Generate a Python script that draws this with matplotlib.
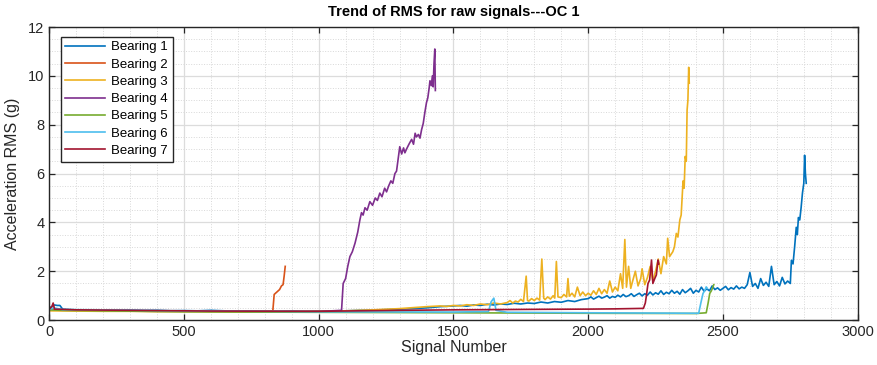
import numpy as np
import matplotlib.pyplot as plt
from matplotlib.ticker import MultipleLocator

# ---- data (signal number, RMS in g) ----
b1_x = [0, 10, 20, 30, 40, 50, 60, 80, 100, 150, 200, 250, 300, 350, 400, 450, 500,
        550, 600, 650, 700, 750, 800, 850, 900, 950, 1000, 1050, 1100, 1150, 1200,
        1250, 1300, 1350, 1400, 1450, 1500, 1525, 1550, 1575, 1600, 1625, 1650, 1675,
        1700, 1725, 1750, 1775, 1800, 1825, 1850, 1875, 1900, 1925, 1950, 1975,
        2000, 2010, 2020, 2030, 2040, 2050, 2060, 2070, 2080, 2090, 2100, 2110, 2120,
        2130, 2140, 2150, 2160, 2170, 2180, 2190, 2200, 2210, 2220, 2230, 2240, 2250,
        2260, 2270, 2280, 2290, 2300, 2310, 2320, 2330, 2340, 2350, 2360, 2370, 2380,
        2390, 2400, 2410, 2420, 2430, 2440, 2450, 2460, 2470, 2480, 2490, 2500, 2510,
        2520, 2530, 2540, 2550, 2560, 2570, 2580, 2590, 2600, 2610, 2620, 2630, 2640,
        2650, 2660, 2670, 2680, 2690, 2700, 2710, 2720, 2730, 2740, 2750, 2754, 2760,
        2766, 2772, 2776, 2780, 2785, 2790, 2795, 2800, 2803, 2806, 2809]
b1_y = [0.5, 0.55, 0.62, 0.6, 0.6, 0.45, 0.44, 0.43, 0.42, 0.42, 0.41, 0.4, 0.41, 0.39, 0.4, 0.38, 0.39,
        0.38, 0.4, 0.38, 0.37, 0.38, 0.37, 0.36, 0.37, 0.36, 0.37, 0.38, 0.38, 0.4, 0.41,
        0.43, 0.45, 0.47, 0.5, 0.55, 0.58, 0.6, 0.57, 0.62, 0.6, 0.65, 0.62, 0.66,
        0.64, 0.69, 0.66, 0.7, 0.68, 0.74, 0.7, 0.76, 0.73, 0.8, 0.76, 0.84,
        0.88, 0.95, 0.86, 0.92, 0.98, 0.9, 0.94, 1.0, 0.9, 0.97, 0.93, 1.02, 0.95,
        1.05, 0.96, 1.0, 1.08, 0.97, 1.04, 1.1, 0.99, 1.08, 1.02, 1.15, 1.03, 1.12,
        1.06, 1.2, 1.05, 1.14, 1.08, 1.22, 1.1, 1.18, 1.06, 1.25, 1.12, 1.2, 1.3,
        1.1, 1.22, 1.15, 1.35, 1.18, 1.28, 1.2, 1.4, 1.25, 1.32, 1.22, 1.3, 1.38,
        1.24, 1.33, 1.27, 1.4, 1.28, 1.35, 1.3, 1.45, 1.95, 1.38, 1.5, 1.3, 1.7,
        1.42, 1.55, 1.38, 2.2, 1.45, 1.58, 1.4, 1.75, 1.48, 1.6, 1.5, 2.45, 2.3,
        3.0, 3.8, 3.5, 4.2, 4.1, 4.6, 5.2, 5.6, 6.75, 6.0, 5.6]

b2_x = [0, 20, 50, 100, 200, 300, 400, 500, 600, 700, 800, 830, 835, 845, 855, 862, 868, 872, 876]
b2_y = [0.42, 0.45, 0.42, 0.4, 0.39, 0.37, 0.36, 0.36, 0.35, 0.35, 0.36, 0.38, 1.05, 1.15, 1.25,
        1.4, 1.45, 1.8, 2.2]

b3_x = [0, 100, 200, 300, 400, 500, 600, 700, 800, 900, 1000, 1100, 1200, 1300, 1400,
        1450, 1475, 1500, 1525, 1550, 1575, 1600, 1625, 1650, 1675,
        1700, 1710, 1720, 1730, 1740, 1750, 1760, 1770, 1775, 1780, 1790, 1800, 1810,
        1820, 1828, 1835, 1840, 1850, 1860, 1870, 1876, 1882, 1888, 1900, 1910, 1920,
        1925, 1930, 1940, 1950, 1960, 1970, 1980, 1990, 2000, 2010, 2020, 2030, 2040,
        2050, 2060, 2070, 2080, 2090, 2100, 2110, 2120, 2128, 2136, 2142, 2150, 2158,
        2165, 2175, 2185, 2195, 2200, 2210, 2220, 2230, 2240, 2250, 2260, 2270, 2280,
        2290, 2295, 2302, 2314, 2320, 2327, 2333, 2340, 2345, 2352, 2356, 2360, 2364,
        2367, 2370, 2373, 2375]
b3_y = [0.38, 0.37, 0.36, 0.36, 0.35, 0.35, 0.35, 0.34, 0.35, 0.35, 0.36, 0.38, 0.42, 0.47, 0.55,
        0.58, 0.56, 0.6, 0.58, 0.63, 0.6, 0.66, 0.63, 0.7, 0.66,
        0.72, 0.8, 0.7, 0.78, 0.74, 0.85, 0.76, 1.8, 0.8, 0.78, 0.88, 0.8, 0.9,
        0.82, 2.5, 0.9, 0.84, 0.95, 0.86, 1.0, 0.9, 2.4, 0.95, 0.92, 1.05, 0.95,
        1.7, 0.98, 1.1, 0.95, 1.35, 1.0, 1.15, 1.0, 1.1, 1.02, 1.2, 1.05, 1.3,
        1.08, 1.25, 1.1, 1.6, 1.15, 1.35, 1.2, 1.9, 1.3, 3.3, 1.35, 2.2, 1.3,
        1.6, 2.0, 1.4, 1.7, 2.1, 1.45, 1.75, 2.2, 1.6, 2.0, 2.5, 1.9, 2.6,
        2.3, 3.35, 2.6, 2.8, 3.0, 3.55, 3.4, 4.1, 4.3, 5.7, 5.4, 6.7, 6.5,
        8.6, 9.0, 10.35, 9.7]

b4_x = [0, 50, 200, 500, 800, 1000, 1085, 1091, 1100, 1108, 1116, 1125, 1135, 1145, 1153,
        1159, 1165, 1172, 1180, 1190, 1200, 1210, 1218, 1227, 1235, 1245, 1252, 1260,
        1268, 1275, 1283, 1289, 1295, 1301, 1308, 1315, 1320, 1326, 1335, 1345, 1352,
        1358, 1363, 1370, 1376, 1382, 1388, 1394, 1400, 1405, 1410, 1413, 1418, 1422,
        1425, 1428, 1431, 1433]
b4_y = [0.45, 0.42, 0.4, 0.37, 0.35, 0.35, 0.4, 1.5, 1.7, 2.2, 2.6, 2.8, 3.15, 3.6, 4.1,
        4.4, 4.3, 4.6, 4.5, 4.85, 4.7, 5.0, 4.9, 5.2, 5.05, 5.4, 5.25, 5.5,
        5.7, 5.6, 6.0, 6.1, 6.6, 7.1, 6.8, 7.05, 6.85, 7.0, 7.2, 7.4, 7.2,
        7.65, 7.5, 7.6, 7.45, 7.8, 8.05, 8.5, 8.9, 9.1, 9.5, 9.8, 9.6, 10.0,
        9.55, 10.5, 11.1, 9.4]

b5_x = [0, 50, 200, 500, 1000, 1500, 2000, 2400, 2438, 2445, 2451, 2457, 2463, 2466]
b5_y = [0.42, 0.4, 0.38, 0.34, 0.32, 0.3, 0.28, 0.27, 0.3, 0.7, 1.09, 1.2, 1.36, 1.45]

b6_x = [0, 20, 50, 200, 500, 800, 1000, 1500, 1630, 1640, 1650, 1658, 1700, 2000, 2410,
        2418, 2426, 2432, 2438, 2442]
b6_y = [0.45, 0.5, 0.43, 0.42, 0.38, 0.36, 0.34, 0.33, 0.35, 0.75, 0.9, 0.4, 0.32, 0.3, 0.28,
        0.7, 1.09, 1.2, 1.36, 1.3]

b7_x = [0, 10, 15, 20, 100, 300, 600, 1000, 1300, 1500, 1800, 2000, 2100, 2205, 2212, 2216,
        2222, 2228, 2235, 2240, 2247, 2253, 2259, 2262]
b7_y = [0.45, 0.55, 0.7, 0.45, 0.42, 0.4, 0.37, 0.36, 0.4, 0.42, 0.44, 0.45, 0.46, 0.48, 0.7, 1.0,
        1.5, 1.64, 2.46, 1.5, 1.7, 1.85, 2.46, 2.3]

labels = ['Bearing 1', 'Bearing 2', 'Bearing 3', 'Bearing 4', 'Bearing 5', 'Bearing 6', 'Bearing 7']
colors = ['#0072BD', '#D95319', '#EDB120', '#7E2F8E', '#77AC30', '#4DBEEE', '#A2142F']
series = [(b1_x, b1_y), (b2_x, b2_y), (b3_x, b3_y), (b4_x, b4_y),
          (b5_x, b5_y), (b6_x, b6_y), (b7_x, b7_y)]

plt.rcParams['font.family'] = ['Liberation Sans', 'DejaVu Sans']

fig = plt.figure(figsize=(8.77, 3.65), dpi=100)
ax = fig.add_axes([0.056, 0.123, 0.922, 0.803])

for (xs, ys), lab, col in zip(series, labels, colors):
    ax.plot(xs, ys, color=col, lw=1.2, label=lab)

ax.set_xlim(0, 3000)
ax.set_ylim(0, 12)
ax.xaxis.set_major_locator(MultipleLocator(500))
ax.xaxis.set_minor_locator(MultipleLocator(100))
ax.yaxis.set_major_locator(MultipleLocator(2))
ax.yaxis.set_minor_locator(MultipleLocator(0.5))

ax.grid(which='major', color='#dcdcdc', lw=0.9, ls='-')
ax.grid(which='minor', color='#d8d8d8', lw=0.7, ls=':')
ax.set_axisbelow(True)

ax.tick_params(which='major', direction='in', top=True, right=True, length=4,
               width=0.9, color='#262626', labelsize=10.5, labelcolor='#262626')
ax.tick_params(which='minor', length=0, top=True, right=True)
for sp in ax.spines.values():
    sp.set_color('#262626')
    sp.set_linewidth(1.0)

ax.set_title('Trend of RMS for raw signals---OC 1', fontsize=10.5, fontweight='bold', pad=8)
ax.set_xlabel('Signal Number', fontsize=11.5, color='#262626', labelpad=1)
ax.set_ylabel('Acceleration RMS (g)', fontsize=11.5, color='#262626', labelpad=6)

leg = ax.legend(loc='upper left', bbox_to_anchor=(0.006, 0.99), fontsize=9.5,
                handlelength=3.0, handletextpad=0.5, labelspacing=0.38,
                borderpad=0.35, fancybox=False, framealpha=1, edgecolor='#262626')
leg.get_frame().set_linewidth(1.0)

fig.savefig('out.png', dpi=100)
